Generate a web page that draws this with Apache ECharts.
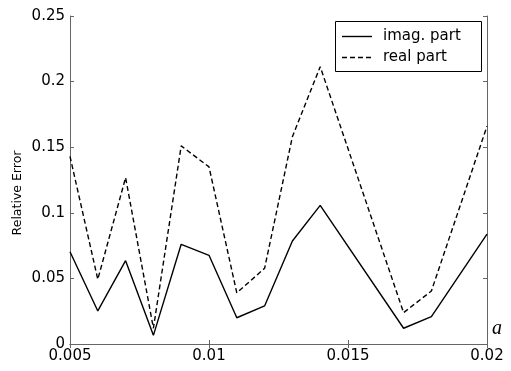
<!DOCTYPE html>
<html><head><meta charset="utf-8">
<script src="https://cdn.jsdelivr.net/npm/echarts@6/dist/echarts.min.js"></script>
<style>html,body{margin:0;padding:0;background:#fff}#c{width:511px;height:371px}</style>
</head><body><div id="c"></div>
<script>
var xValues = [0.005, 0.006, 0.007, 0.008, 0.009, 0.010, 0.011, 0.012, 0.013, 0.014, 0.017, 0.018, 0.020];
var imagPart = [0.0703, 0.0252, 0.0635, 0.0066, 0.0760, 0.0676, 0.0200, 0.0290, 0.0785, 0.1057, 0.0120, 0.0208, 0.0838];
var realPart = [0.1430, 0.0493, 0.1268, 0.0120, 0.1510, 0.1350, 0.0390, 0.0577, 0.1580, 0.2114, 0.0239, 0.0404, 0.1660];
var seriesNames = ['imag. part', 'real part'];
var yTitle = 'Relative Error';
var xTitle = 'a';

function pairs(ys){ return xValues.map(function(x,i){ return [x, ys[i]]; }); }
var font = 'DejaVu Sans';
var axisCol = '#666';
var dash = [5, 3];
var chart = echarts.init(document.getElementById('c'));
chart.setOption({
  animation: false,
  backgroundColor: '#fff',
  grid: {left: 70, right: 24, top: 16, bottom: 27},
  xAxis: [{
    type: 'value', min: 0.005, max: 0.02, interval: 0.005,
    axisLine: {lineStyle: {color: axisCol, width: 1}},
    axisTick: {inside: true, length: 4, lineStyle: {color: axisCol}},
    axisLabel: {fontFamily: font, fontSize: 15, color: '#000', margin: 5},
    splitLine: {show: false}
  }, {
    type: 'value', position: 'top', min: 0.005, max: 0.02, interval: 0.005,
    axisLine: {show: true, lineStyle: {color: axisCol, width: 1}},
    axisTick: {inside: true, length: 4, lineStyle: {color: axisCol}},
    axisLabel: {show: false}, splitLine: {show: false}
  }],
  yAxis: [{
    type: 'value', min: 0, max: 0.25, interval: 0.05,
    axisLine: {show: true, lineStyle: {color: axisCol, width: 1}},
    axisTick: {show: true, inside: true, length: 4, lineStyle: {color: axisCol}},
    axisLabel: {fontFamily: font, fontSize: 15, color: '#000', margin: 5},
    splitLine: {show: false}
  }, {
    type: 'value', position: 'right', min: 0, max: 0.25, interval: 0.05,
    axisLine: {show: true, lineStyle: {color: axisCol, width: 1}},
    axisTick: {show: true, inside: true, length: 4, lineStyle: {color: axisCol}},
    axisLabel: {show: false}, splitLine: {show: false}
  }],
  series: [{
    name: seriesNames[0], type: 'line', data: pairs(imagPart), symbol: 'none',
    color: '#000', lineStyle: {color: '#000', width: 1.4, type: 'solid'}
  }, {
    name: seriesNames[1], type: 'line', data: pairs(realPart), symbol: 'none',
    color: '#000', lineStyle: {color: '#000', width: 1.4, type: dash}
  }],
  graphic: [
    {type: 'rect', shape: {x: 335.5, y: 21.5, width: 146, height: 50},
     style: {fill: '#fff', stroke: '#000', lineWidth: 1}, z: 100},
    {type: 'line', shape: {x1: 342, y1: 36.5, x2: 372, y2: 36.5},
     style: {stroke: '#000', lineWidth: 1.4}, z: 101},
    {type: 'line', shape: {x1: 342, y1: 57.5, x2: 372, y2: 57.5},
     style: {stroke: '#000', lineWidth: 1.4, lineDash: dash}, z: 101},
    {type: 'text', x: 383, y: 36.5, z: 101,
     style: {text: seriesNames[0], font: '15px "DejaVu Sans"', fill: '#000', textVerticalAlign: 'middle'}},
    {type: 'text', x: 383, y: 57.5, z: 101,
     style: {text: seriesNames[1], font: '15px "DejaVu Sans"', fill: '#000', textVerticalAlign: 'middle'}},
    {type: 'text', x: 18, y: 193, rotation: Math.PI / 2, z: 101,
     style: {text: yTitle, font: '12.5px "DejaVu Sans"', fill: '#000', textAlign: 'center', textVerticalAlign: 'middle'}},
    {type: 'text', left: 492, top: 319,
     style: {text: xTitle, font: 'italic 20px "Liberation Serif"', fill: '#000'}}
  ]
});
</script></body></html>
